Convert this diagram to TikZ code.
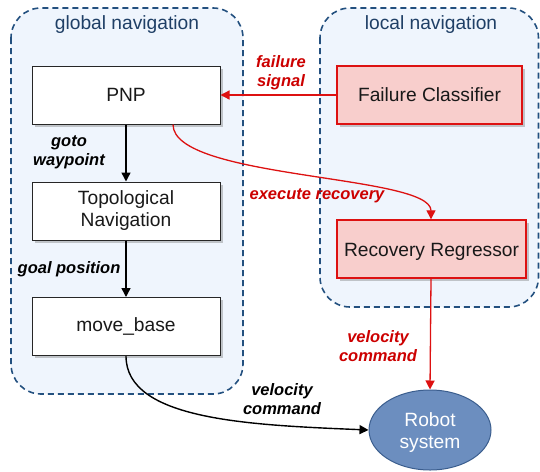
\documentclass[tikz,border=0pt]{standalone}
\usepackage{fontspec}
\setmainfont{Liberation Sans}
\usetikzlibrary{arrows.meta,shadows,shapes.geometric}
\definecolor{contfill}{HTML}{EFF5FD}
\definecolor{contline}{HTML}{23507F}
\definecolor{conttext}{HTML}{1F3F66}
\definecolor{redfill}{HTML}{F8CECC}
\definecolor{redline}{HTML}{DD1111}
\definecolor{redtext}{HTML}{CC0000}
\definecolor{robfill}{HTML}{6C8EBF}
\definecolor{robline}{HTML}{3B5E8E}
\tikzset{
  container/.style={draw=contline, fill=contfill, line width=1.6pt, dash pattern=on 6pt off 4pt, rounded corners=30pt},
  conttitle/.style={text=conttext, font=\fontsize{19.2}{23}\selectfont},
  box/.style={draw=black!85, fill=white, line width=1pt, minimum width=188pt, minimum height=58pt, align=center,
    font=\fontsize{19.2}{23}\selectfont, text=black!90,
    drop shadow={shadow xshift=2.5pt, shadow yshift=-2.5pt, opacity=0.35, fill=black!60}},
  redbox/.style={box, draw=redline, fill=redfill, line width=1.4pt},
  robot/.style={ellipse, draw=robline, fill=robfill, line width=1pt, minimum width=122pt, minimum height=80pt,
    align=center, text=white, font=\fontsize{19.2}{23}\selectfont},
  lbl/.style={font=\fontsize{16.5}{19}\selectfont\bfseries\itshape, align=center, inner sep=0pt},
  blk/.style={draw=black, line width=1.4pt, -{Triangle[length=9pt,width=9pt]}},
  rd/.style={draw=redline, line width=1.3pt, -{Triangle[length=9pt,width=9pt]}},
}
\begin{document}
\begin{tikzpicture}[x=1pt,y=-1pt]
\useasboundingbox (0,0) rectangle (540,471);
% containers
\draw[container] (11,8) rectangle (243,394);
\draw[container] (320,8) rectangle (538.5,307);
\node[conttitle] (gtitle) at (127,25) {global navigation};
\node[conttitle] (ltitle) at (431,25) {local navigation};
% nodes
\node[box] (pnp) at (126,95) {PNP};
\node[box, text width=170pt] (topo) at (126,211) {Topological\\[-1pt]Navigation};
\node[box] (mb) at (126,326.5) {move\_base};
\node[redbox, minimum width=185pt] (fc) at (429.5,95) {Failure Classifier};
\node[redbox, minimum width=189pt] (rr) at (431.5,249) {\raisebox{-3pt}[\height][\depth]{Recovery Regressor}};
\node[robot] (rob) at (430,430) {\raisebox{-3pt}[\height][\depth]{\begin{tabular}{@{}c@{}}Robot\\[-1pt]system\end{tabular}}};
% connectors
\draw[rd] (fc.west) -- (pnp.east);
\draw[blk] (pnp.south) -- (topo.north);
\draw[blk] (topo.south) -- (mb.north);
\draw[rd] ([xshift=47pt]pnp.south) .. controls +(0,55) and +(0,-45) .. ([xshift=-0.5pt]rr.north);
\draw[rd] ([xshift=-0.5pt]rr.south) -- (rob.north);
\draw[blk] (mb.south) .. controls +(0,64) and +(-120,-5) .. (rob.west);
% labels
\node[lbl, text=redtext] (l1) at (281,72.5) {failure\\signal};
\node[lbl] (l2) at (69,152.5) {goto\\waypoint};
\node[lbl, text=redtext] (l3) at (317,196) {execute recovery};
\node[lbl] (l4) at (69,269) {goal position};
\node[lbl, text=redtext] (l5) at (378,346.5) {velocity\\command};
\node[lbl] (l6) at (282,399.5) {velocity\\command};
\end{tikzpicture}
\end{document}
